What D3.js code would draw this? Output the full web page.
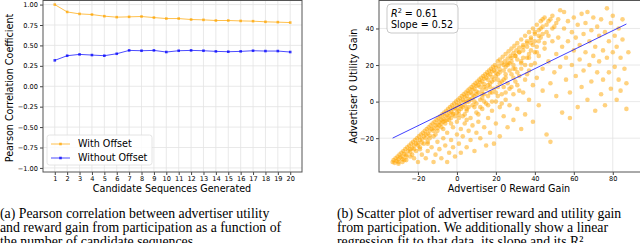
<!DOCTYPE html>
<html>
<head>
<meta charset="utf-8">
<script src="https://cdn.jsdelivr.net/npm/d3@7"></script>
<style>
  body { margin: 0; background: #fff; }
  svg { display: block; }
  .tick text { font-family: "DejaVu Sans", sans-serif; font-size: 6.6px; fill: #000; }
  .tick line { stroke: #444; }
  .domain { display: none; }
  .lbl { font-family: "DejaVu Sans", sans-serif; font-size: 9.6px; fill: #000; }
  .cap { font-family: "Liberation Serif", "Times New Roman", serif; font-size: 13.8px; fill: #000; }
</style>
</head>
<body>
<div id="chart"></div>
<script>
// Left panel data: Pearson correlation per number of candidate sequences
let candidates = d3.range(1, 21)
let withOffset = [1.00, 0.91, 0.886, 0.878, 0.858, 0.846, 0.85, 0.854, 0.841, 0.829,
                  0.829, 0.817, 0.813, 0.805, 0.805, 0.80, 0.797, 0.789, 0.785, 0.78]
let withoutOffset = [0.317, 0.374, 0.39, 0.382, 0.374, 0.398, 0.439, 0.435, 0.439, 0.419,
                     0.435, 0.439, 0.435, 0.427, 0.423, 0.427, 0.435, 0.431, 0.431, 0.419]
let leftYTicks = [-1.00, -0.75, -0.50, -0.25, 0.00, 0.25, 0.50, 0.75, 1.00]
let seriesNames = ["With Offset", "Without Offset"]

// Right panel data: [reward gain, utility gain]
let scatterPoints = [
  // dense band along the upper edge
  [-33,-33],[-32.5,-32],[-32,-33.5],[-31.5,-31],[-31,-32.5],[-30.5,-30],[-30,-31.5],[-29.5,-29],[-29,-30.5],[-28.5,-28],
  [-28,-30],[-27.5,-27],[-27,-28.5],[-26.5,-26],[-26,-29],[-25.5,-25],[-25,-27],[-24.5,-24],[-24,-26],[-23.5,-23],
  [-23,-25.5],[-22.5,-22],[-22,-24],[-21.5,-21],[-21,-23],[-20.5,-20],[-20,-22.5],[-19.5,-19],[-19,-21],[-18.5,-18],
  [-18,-20.5],[-17.5,-17],[-17,-19],[-16.5,-16],[-16,-18],[-15.5,-15],[-15,-17.5],[-14.5,-14],[-14,-16],[-13.5,-13],
  [-13,-15],[-12.5,-12],[-12,-14.5],[-11.5,-11],[-11,-13],[-10.5,-10],[-10,-12.5],[-9.5,-9],[-9,-11],[-8.5,-8],
  [-8,-10],[-7.5,-7],[-7,-9.5],[-6.5,-6],[-6,-8],[-5.5,-5],[-5,-7.5],[-4.5,-4],[-4,-6],[-3.5,-3],
  [-3,-5.5],[-2.5,-2],[-2,-4],[-1.5,-1],[-1,-3.5],[-0.5,0],[0,-2],[0.5,1],[1,-1.5],[1.5,2],
  [2,0],[2.5,3],[3,1],[3.5,4],[4,2.5],[4.5,5],[5,3],[5.5,6],[6,4.5],[6.5,7],
  [7,5],[7.5,8],[8,6.5],[8.5,9],[9,7],[9.5,10],[10,8.5],[10.5,11],[11,9],[11.5,12],
  [12,10.5],[12.5,13],[13,11],[13.5,14],[14,12.5],[14.5,15],[15,13],[15.5,16],[16,14.5],[16.5,17],
  [17,15],[17.5,18],[18,16.5],[18.5,19],[19,17],[19.5,20],[20,18.5],[21,22],[21.5,19.5],[22,23],
  [23,21],[23.5,24.5],[24.5,22],[25,26],[26,23.5],[26.5,27.5],[27.5,25],[28,29],[29,26.5],[29.5,30.5],
  [30.5,28],[31,32],[32,29.5],[33,34],[34,31],[35,36],[36,33],[37,38],[38,35],[39,40],
  [40,37],[41,42],[42,39],[43,44],[44,41],[45,46],
  // second and third rows of the band
  [-30,-33],[-28,-31.5],[-26,-30],[-24,-27.5],[-22,-26],[-20,-24],[-18,-22.5],[-16,-20],[-14,-18.5],[-12,-16],
  [-10,-14.5],[-8,-12],[-6,-10.5],[-4,-8],[-2,-6.5],[0,-4],[2,-2.5],[4,0],[6,1.5],[8,4],
  [10,5.5],[12,8],[14,9.5],[16,12],[18,13.5],[20,16],[22,17.5],[24,20],[26,21],[28,24],
  [30,25],[32,27],[34,28],[36,30],[38,32],[40,33],[42,36],[44,37],
  [-27,-32],[-23,-29],[-19,-26],[-15,-23],[-11,-18],[-7,-15],[-3,-12],[1,-7],[5,-4],[9,0],
  [13,4],[17,8],[21,12],[25,15],[29,18],[33,22],[37,24],[41,27],[45,32],[47,36],
  [49,40],[51,43],[46,42],[44,45],[48,45],
  // spread below the band
  [-30,-34],[-28,-33],[-26,-32],[-24,-30],[-22,-31],[-21,-27],[-20,-33],[-19,-25],[-18,-29],[-17,-23],
  [-16,-31],[-15,-22],[-15,-27],[-14,-20],[-13,-25],[-12,-33],[-12,-19],[-11,-29],[-10,-22],[-10,-16],
  [-9,-26],[-8,-31],[-8,-14],[-7,-20],[-6,-24],[-6,-12],[-5,-33],[-5,-17],[-4,-28],[-4,-10],
  [-3,-21],[-2,-14],[-2,-25],[-1,-8],[-1,-30],[0,-18],[0,-11],[1,-23],[1,-5],[2,-15],
  [2,-28],[3,-8],[3,-19],[4,-2],[4,-12],[5,-25],[5,-5],[6,-16],[6,0],[7,-9],
  [7,-21],[8,2],[8,-13],[9,-3],[9,-27],[10,-17],[10,4],[11,-7],[11,-11],[12,1],
  [12,-20],[13,-4],[13,6],[14,-14],[14,8],[15,-1],[15,-24],[16,3],[16,-9],[17,10],
  [17,-17],[18,-5],[18,5],[19,12],[19,-23],[20,0],[20,-12],[21,8],[21,15],[22,-3],
  [22,-19],[23,11],[23,4],[24,17],[24,-8],[25,1],[25,13],[26,20],[26,-14],[27,7],
  [27,-2],[28,22],[28,15],[29,-10],[29,4],[30,18],[30,25],[31,9],[31,-4],[32,27],
  [32,14],[33,-15],[33,21],[34,5],[34,30],[35,12],[35,-7],[36,24],[36,32],[37,17],
  [37,1],[38,34],[38,28],[39,-11],[39,9],[40,21],[40,38],[41,30],[41,13],[42,-2],
  [42,25],[43,40],[43,35],[44,18],[44,6],[45,29],[46,-18],[46,38],[47,22],[47,44],
  [48,-22],[48,10],[49,33],[49,47],[50,16],[50,41],[51,26],[51,3],[52,45],[52,35],
  [53,50],[53,19],[54,-6],[54,30],[55,49],[55,40],[56,12],[56,24],[57,44],[57,33],
  [58,-9],[58,5],[59,38],[59,20],[60,46],[60,28],[61,14],[61,35],[62,-3],[62,42],
  [63,23],[63,31],[64,8],[64,48],[65,37],[65,17],[66,27],[66,43],[67,49],[67,1],
  [68,33],[68,20],[69,11],[69,39],[70,25],[70,46],[71,-5],[71,30],[72,16],[72,41],
  [73,36],[73,22],[74,4],[74,45],[75,28],[75,12],[76,38],[76,-2],[77,51],[77,24],
  [78,33],[78,16],[79,43],[79,7],[80,27],[80,47],[81,36],[81,19],[82,1],[82,30],
  [83,40],[83,12],[84,24],[84,6],[85,34],[85,45],[86,18],[87,10],[87,-4],[88,27],
  // extra density in the core
  [-9,-13],[-7,-11],[-5,-10],[-3,-9],[-2,-7],[0,-6],[1,-9],[2,-4],[3,-3],[4,-7],
  [5,0],[5,-10],[6,-3],[7,1],[8,-2],[9,3],[10,-1],[10,-6],[11,5],[12,-3],
  [13,2],[14,0],[14,4],[15,7],[16,-2],[16,9],[17,5],[18,11],[18,0],[19,7],
  [20,14],[20,5],[21,3],[22,10],[22,16],[23,-1],[24,8],[24,12],[25,19],[25,5],
  [26,10],[27,17],[27,21],[28,8],[29,13],[29,20],[30,11],[31,23],[31,16],[32,6],
  [33,18],[34,24],[35,20],[36,15],[37,26],[38,20],[39,31],[40,27],[42,33]
]
let fitRange = [-33, 87]
let fitSlope = 0.52
let fitIntercept = -2.8
let rightXTicks = [-20, 0, 20, 40, 60, 80]
let rightYTicks = [-20, 0, 20, 40]
let statLines = ["= 0.61", "Slope = 0.52"]

let w = 640, h = 243
let svg = d3.select("#chart").append("svg").attr("width", w).attr("height", h)

let gridColor = "#e3e3e3"
let frameColor = "#555"

// ---------- left panel ----------
let xL = d3.scaleLinear().domain([0.05, 20.95]).range([43, 302])
let yL = d3.scaleLinear().domain([-1.05, 1.05]).range([172, 0.5])

let left = svg.append("g")
left.selectAll(".vg").data(candidates).enter().append("line")
  .attr("x1", d => xL(d)).attr("x2", d => xL(d)).attr("y1", yL.range()[0]).attr("y2", yL.range()[1])
  .attr("stroke", gridColor).attr("stroke-width", 0.8)
left.selectAll(".hg").data(leftYTicks).enter().append("line")
  .attr("x1", xL.range()[0]).attr("x2", xL.range()[1]).attr("y1", d => yL(d)).attr("y2", d => yL(d))
  .attr("stroke", gridColor).attr("stroke-width", 0.8)

left.append("g").attr("transform", "translate(0,172)")
  .call(d3.axisBottom(xL).tickValues(candidates).tickFormat(d3.format("d")).tickSize(3).tickPadding(1.5))
left.append("g").attr("transform", "translate(43,0)")
  .call(d3.axisLeft(yL).tickValues(leftYTicks).tickFormat(d3.format(".2f")).tickSize(3).tickPadding(2))

let lineL = d3.line().x((d, i) => xL(candidates[i])).y(d => yL(d))
let seriesL = [
  { name: seriesNames[0], values: withOffset, color: "orange" },
  { name: seriesNames[1], values: withoutOffset, color: "blue" }
]
seriesL.forEach(s => {
  left.append("path").datum(s.values).attr("d", lineL)
    .attr("fill", "none").attr("stroke", s.color).attr("stroke-width", 1).attr("stroke-opacity", 0.7)
  left.selectAll(null).data(s.values).enter().append("rect")
    .attr("x", (d, i) => xL(candidates[i]) - 1.3).attr("y", d => yL(d) - 1.3)
    .attr("width", 2.6).attr("height", 2.6).attr("fill", s.color).attr("fill-opacity", 0.75)
})

left.append("rect").attr("x", 43).attr("y", 0.5).attr("width", 259).attr("height", 171.5)
  .attr("fill", "none").attr("stroke", frameColor).attr("stroke-width", 1)

// legend
let leg = left.append("g").attr("transform", "translate(47,135)")
leg.append("rect").attr("width", 105).attr("height", 30).attr("rx", 2.5)
  .attr("fill", "#fff").attr("fill-opacity", 0.85).attr("stroke", "#ddd").attr("stroke-width", 0.8)
seriesL.forEach((s, i) => {
  let yy = 9 + i * 14
  leg.append("line").attr("x1", 4).attr("x2", 23).attr("y1", yy).attr("y2", yy)
    .attr("stroke", s.color).attr("stroke-width", 1).attr("stroke-opacity", 0.7)
  leg.append("rect").attr("x", 12.2).attr("y", yy - 1.3).attr("width", 2.6).attr("height", 2.6)
    .attr("fill", s.color).attr("fill-opacity", 0.75)
  leg.append("text").attr("class", "lbl").attr("x", 31).attr("y", yy + 3.4).text(s.name)
})

left.append("text").attr("class", "lbl").attr("text-anchor", "middle")
  .attr("x", 172).attr("y", 192).text("Candidate Sequences Generated")
left.append("text").attr("class", "lbl").attr("text-anchor", "middle")
  .attr("transform", "translate(13,88) rotate(-90)").text("Pearson Correlation Coefficient")

// ---------- right panel ----------
let xR = d3.scaleLinear().domain([-40, 95]).range([379, 642])
let yR = d3.scaleLinear().domain([-38.5, 55.3]).range([172, 0.5])

let right = svg.append("g")
right.selectAll(".vg").data(rightXTicks).enter().append("line")
  .attr("x1", d => xR(d)).attr("x2", d => xR(d)).attr("y1", 172).attr("y2", 0.5)
  .attr("stroke", gridColor).attr("stroke-width", 0.8)
right.selectAll(".hg").data(rightYTicks).enter().append("line")
  .attr("x1", 379).attr("x2", 642).attr("y1", d => yR(d)).attr("y2", d => yR(d))
  .attr("stroke", gridColor).attr("stroke-width", 0.8)

right.append("g").attr("transform", "translate(0,172)")
  .call(d3.axisBottom(xR).tickValues(rightXTicks).tickSize(3).tickPadding(1.5))
right.append("g").attr("transform", "translate(379,0)")
  .call(d3.axisLeft(yR).tickValues(rightYTicks).tickSize(3).tickPadding(2))

right.selectAll("circle").data(scatterPoints).enter().append("circle")
  .attr("cx", d => xR(d[0])).attr("cy", d => yR(d[1])).attr("r", 2.3)
  .attr("fill", "orange").attr("fill-opacity", 0.5)

right.append("line")
  .attr("x1", xR(fitRange[0])).attr("y1", yR(fitSlope * fitRange[0] + fitIntercept))
  .attr("x2", xR(fitRange[1])).attr("y2", yR(fitSlope * fitRange[1] + fitIntercept))
  .attr("stroke", "blue").attr("stroke-width", 1).attr("stroke-opacity", 0.75)

right.append("rect").attr("x", 379).attr("y", 0.5).attr("width", 263).attr("height", 171.5)
  .attr("fill", "none").attr("stroke", frameColor).attr("stroke-width", 1)

let box = right.append("g").attr("transform", "translate(387,4)")
box.append("rect").attr("width", 71).attr("height", 29).attr("rx", 4)
  .attr("fill", "#fff").attr("fill-opacity", 0.85).attr("stroke", "#bbb").attr("stroke-width", 0.8)
let t1 = box.append("text").attr("class", "lbl").attr("x", 4).attr("y", 12.5)
t1.append("tspan").attr("font-style", "italic").text("R")
t1.append("tspan").attr("dy", -4).attr("font-size", "6.5px").text("2")
t1.append("tspan").attr("dy", 4).text(" " + statLines[0])
box.append("text").attr("class", "lbl").attr("x", 4).attr("y", 24).text(statLines[1])

right.append("text").attr("class", "lbl").attr("text-anchor", "middle")
  .attr("x", 509).attr("y", 192).text("Advertiser 0 Reward Gain")
right.append("text").attr("class", "lbl").attr("text-anchor", "middle")
  .attr("transform", "translate(357,86) rotate(-90)").text("Advertiser 0 Utility Gain")

// ---------- captions ----------
let capA = ["(a) Pearson correlation between advertiser utility",
            "and reward gain from participation as a function of",
            "the number of candidate sequences."]
let capB = ["(b) Scatter plot of advertiser reward and utility gain",
            "from participation. We additionally show a linear",
            "regression fit to that data, its slope and its R\u00b2."]
capA.forEach((t, i) => svg.append("text").attr("class", "cap").attr("x", 0).attr("y", 218 + i * 14).text(t))
capB.forEach((t, i) => svg.append("text").attr("class", "cap").attr("x", 337).attr("y", 218 + i * 14).text(t))
</script>
</body>
</html>
